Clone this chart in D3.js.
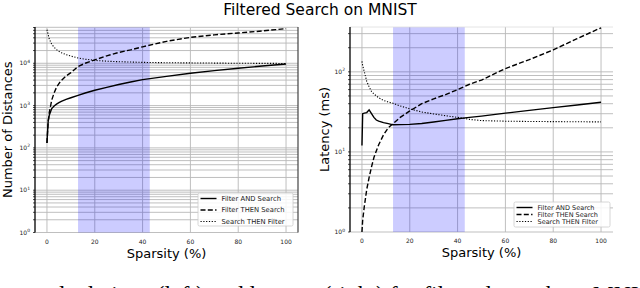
<!DOCTYPE html>
<html>
<head>
<meta charset="utf-8">
<script src="https://cdn.jsdelivr.net/npm/d3@7"></script>
<style>
body { margin: 0; background: #fff; }
svg { display: block; }
</style>
</head>
<body>
<div id="chart"></div>
<script>
// ---------------- data ----------------
var seriesNames = ["Filter AND Search", "Filter THEN Search", "Search THEN Filter"];
var xTicks = [0, 20, 40, 60, 80, 100];
var band = [13, 43];

// left: number of distances
var sparsityL = [0, 0.5, 1, 2, 3, 4, 5, 6, 8, 10, 13, 16, 20, 25, 30, 35, 40, 50, 60, 70, 80, 90, 100];
var andDist = [130, 420, 600, 850, 980, 1080, 1170, 1250, 1400, 1530, 1750, 1980, 2300, 2700, 3150, 3600, 4100, 4900, 5800, 6700, 7600, 8600, 9600];
var thenDist = [130, 420, 700, 1350, 2000, 2700, 3300, 3900, 5000, 6000, 8400, 10000, 12000, 15000, 18000, 20800, 24500, 33000, 41000, 47000, 52000, 58000, 66000];
var searchDist = [62000, 48000, 37000, 28000, 24000, 21000, 19200, 17800, 16000, 14800, 13300, 12500, 11700, 11200, 10900, 10700, 10500, 10300, 10200, 10100, 10000, 9950, 9900];

// right: latency (ms)
var sparsityR = [0, 0.3, 1, 2, 3, 4, 5, 6, 7, 9, 11, 13, 16, 20, 25, 30, 35, 40, 45, 50, 60, 70, 80, 90, 100];
var andLat = [12, 30, 30.5, 31, 33.5, 30, 27, 25, 24.2, 23.2, 22.6, 21.8, 21.9, 22.1, 22.6, 23.6, 24.8, 26, 27, 28, 30.5, 33, 35.7, 38.5, 41.7];
var thenLat = [1, 1.4, 2.1, 3.4, 4.8, 6.5, 8.5, 10.3, 12.3, 16.3, 20, 22.5, 27, 32.5, 40, 46, 52, 60, 70, 79, 110, 142, 188, 260, 355];
var searchLat = [135, 120, 100, 76, 65, 57, 53, 50, 47.5, 44, 42, 40.5, 37.5, 34.5, 31.5, 29.8, 28.3, 27, 25.5, 24.6, 24.2, 24, 23.9, 23.8, 23.7];

var dashes = [null, "5,2.3", "1.2,1.6"];
var font = "DejaVu Sans, sans-serif";

var svg = d3.select("#chart").append("svg")
  .attr("width", 640).attr("height", 288)
  .style("font-family", font);

svg.append("text")
  .attr("x", 320).attr("y", 15)
  .attr("text-anchor", "middle")
  .attr("font-size", 15.5)
  .text("Filtered Search on MNIST");

function supLabel(sel, k) {
  sel.text("10");
  sel.append("tspan").attr("dy", -2.5).attr("font-size", 4.5).text(k);
}

function panel(o) {
  var x = d3.scaleLinear().domain([-5, 105]).range([o.left, o.right]);
  var y = d3.scaleLog().domain([1, o.yMax]).range([o.bottom, o.top]);
  var g = svg.append("g");

  // minor + major horizontal grid
  var minors = [];
  for (var e = 0; Math.pow(10, e) <= o.yMax; e++) {
    for (var m = 1; m < 10; m++) {
      var v = m * Math.pow(10, e);
      if (v <= o.yMax) minors.push(v);
    }
  }
  g.selectAll("line.hgrid").data(minors).enter().append("line")
    .attr("x1", o.left).attr("x2", o.right)
    .attr("y1", function(d) { return y(d); })
    .attr("y2", function(d) { return y(d); })
    .attr("stroke", "#b8b8b8").attr("stroke-width", 0.9);

  g.selectAll("line.vgrid").data(xTicks).enter().append("line")
    .attr("x1", function(d) { return x(d); })
    .attr("x2", function(d) { return x(d); })
    .attr("y1", o.top).attr("y2", o.bottom)
    .attr("stroke", "#b8b8b8").attr("stroke-width", 0.9);

  // highlighted band
  g.append("rect")
    .attr("x", x(band[0])).attr("width", x(band[1]) - x(band[0]))
    .attr("y", o.top).attr("height", o.bottom - o.top)
    .attr("fill", "blue").attr("opacity", 0.2);

  // top border
  g.append("line").attr("x1", o.left).attr("x2", o.right)
    .attr("y1", o.top).attr("y2", o.top)
    .attr("stroke", "#ddd").attr("stroke-width", 0.8);

  // series
  g.append("clipPath").attr("id", "clip" + o.id)
    .append("rect").attr("x", o.left).attr("y", o.top)
    .attr("width", o.right - o.left).attr("height", o.bottom - o.top);

  var line = d3.line()
    .x(function(d) { return x(d[0]); })
    .y(function(d) { return y(d[1]); });

  o.series.forEach(function(vals, i) {
    g.append("path")
      .datum(o.xs.map(function(s, j) { return [s, vals[j]]; }))
      .attr("clip-path", "url(#clip" + o.id + ")")
      .attr("d", line)
      .attr("fill", "none")
      .attr("stroke", "#000")
      .attr("stroke-width", i == 2 ? 1.1 : 1.4)
      .attr("stroke-dasharray", dashes[i]);
  });

  // spines
  g.append("line").attr("x1", o.left).attr("x2", o.left)
    .attr("y1", o.top).attr("y2", o.bottom)
    .attr("stroke", "#000").attr("stroke-width", 1.3);
  if (o.rightSpine) {
    g.append("line").attr("x1", o.right).attr("x2", o.right)
      .attr("y1", o.top).attr("y2", o.bottom)
      .attr("stroke", "#444").attr("stroke-width", 1.2);
  }

  // y ticks
  g.selectAll("line.ytick").data(minors).enter().append("line")
    .attr("x1", o.left - 2).attr("x2", o.left)
    .attr("y1", function(d) { return y(d); })
    .attr("y2", function(d) { return y(d); })
    .attr("stroke", "#000").attr("stroke-width", 0.7);

  var majors = minors.filter(function(d) { return Math.abs(Math.log10(d) % 1) < 1e-9; });
  majors.forEach(function(d) {
    g.append("text")
      .attr("x", o.left - 5).attr("y", y(d) + 2)
      .attr("text-anchor", "end")
      .attr("font-size", 6).attr("fill", "#222")
      .call(supLabel, Math.round(Math.log10(d)));
  });

  // x tick labels
  g.selectAll("text.xt").data(xTicks).enter().append("text")
    .attr("x", function(d) { return x(d); })
    .attr("y", o.bottom + 11)
    .attr("text-anchor", "middle")
    .attr("font-size", 6).attr("fill", "#222")
    .text(function(d) { return d; });

  // axis labels
  g.append("text")
    .attr("x", (o.left + o.right) / 2).attr("y", o.bottom + 25)
    .attr("text-anchor", "middle").attr("font-size", 13)
    .text("Sparsity (%)");
  g.append("text")
    .attr("transform", "translate(" + o.yLabelX + "," + ((o.top + o.bottom) / 2) + ") rotate(-90)")
    .attr("text-anchor", "middle").attr("font-size", 13)
    .text(o.yLabel);

  // legend
  var lg = g.append("g").attr("transform", "translate(" + o.legend.x + "," + o.legend.y + ")");
  lg.append("rect")
    .attr("width", o.legend.w).attr("height", o.legend.h)
    .attr("fill", "#fff").attr("fill-opacity", 0.85)
    .attr("stroke", "#ccc").attr("stroke-width", 0.8).attr("rx", 1.5);
  seriesNames.forEach(function(name, i) {
    var ry = o.legend.row0 + i * o.legend.step;
    lg.append("line")
      .attr("x1", 2.5).attr("x2", 18.5).attr("y1", ry).attr("y2", ry)
      .attr("stroke", "#000").attr("stroke-width", i == 2 ? 1.1 : 1.4)
      .attr("stroke-dasharray", dashes[i]);
    lg.append("text")
      .attr("x", 23.5).attr("y", ry + 2.2)
      .attr("font-size", o.legend.fs).attr("fill", "#222")
      .text(name);
  });
}

panel({
  id: "L", left: 35, right: 298, top: 27, bottom: 232.5, yMax: 72000,
  xs: sparsityL, series: [andDist, thenDist, searchDist],
  yLabel: "Number of Distances", yLabelX: 12, rightSpine: true,
  legend: { x: 198, y: 193, w: 95, h: 33, row0: 5.5, step: 11.5, fs: 6.8 }
});

panel({
  id: "R", left: 350, right: 613, top: 27, bottom: 232, yMax: 363,
  xs: sparsityR, series: [andLat, thenLat, searchLat],
  yLabel: "Latency (ms)", yLabelX: 329, rightSpine: false,
  legend: { x: 514, y: 202, w: 96, h: 25, row0: 5.5, step: 7, fs: 6.5 }
});

// caption of the paper figure, clipped at the bottom edge
svg.append("text")
  .attr("x", 38).attr("y", 302)
  .attr("font-family", "Liberation Serif, serif")
  .attr("font-size", 23.6)
  .text("calculations (left) and latency (right) for filtered search on MNIST");
</script>
</body>
</html>
